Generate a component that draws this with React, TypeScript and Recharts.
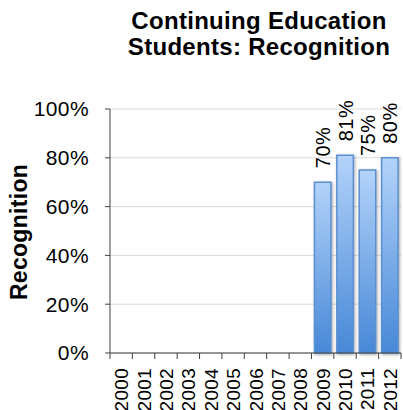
import React from "react";
import { BarChart, Bar, XAxis, YAxis, CartesianGrid, LabelList } from "recharts";

const years = ["2000","2001","2002","2003","2004","2005","2006","2007","2008","2009","2010","2011","2012"];
const recognition: (number | null)[] = [null,null,null,null,null,null,null,null,null,70,81,75,80];
const yTicks = [0, 20, 40, 60, 80, 100];
const titleLines = ["Continuing Education", "Students: Recognition"];
const yLabel = "Recognition";

const data = years.map((y, i) => ({ year: y, value: recognition[i] }));

const W = 403;
const H = 410;
const LEFT = 110;
const RIGHT_M = 2;
const BAND = (W - LEFT - RIGHT_M) / years.length;
const FONT = "Liberation Sans, Arial, Helvetica, sans-serif";

const XTick = (props: any) => {
  const { x, y, payload, index } = props;
  const bx = x - BAND / 2;
  return (
    <g>
      <line x1={bx} y1={y} x2={bx} y2={y + 6} stroke="#404040" strokeWidth={1} />
      {index === years.length - 1 && (
        <line x1={x + BAND / 2} y1={y} x2={x + BAND / 2} y2={y + 6} stroke="#404040" strokeWidth={1} />
      )}
      <text
        x={x + 7}
        y={y + 15}
        transform={`rotate(-90, ${x + 7}, ${y + 15})`}
        textAnchor="end"
        style={{ fontFamily: FONT }}
        fontSize={19}
        letterSpacing={0.3}
        fill="#000"
      >
        {payload.value}
      </text>
    </g>
  );
};

const BarLabel = (props: any) => {
  const { x, y, width, value } = props;
  if (value == null) return null;
  const tx = x + width / 2 + 7.5;
  const ty = y - 14;
  return (
    <text
      x={tx}
      y={ty}
      transform={`rotate(-90, ${tx}, ${ty})`}
      textAnchor="start"
      style={{ fontFamily: FONT }}
      fontSize={20}
      letterSpacing={0.5}
      fill="#000"
    >
      {`${value}%`}
    </text>
  );
};

export default function App() {
  return (
    <div style={{ position: "absolute", left: 0, top: 0, width: W, height: H, background: "#fff", overflow: "hidden" }}>
      <BarChart
        width={W}
        height={H}
        data={data}
        margin={{ top: 109, right: RIGHT_M, left: 0, bottom: 0 }}
        barSize={16.5}
      >
        <defs>
          <linearGradient id="barGrad" x1="0" y1="0" x2="0" y2="1">
            <stop offset="0%" stopColor="#b3d3fa" />
            <stop offset="100%" stopColor="#4788d7" />
          </linearGradient>
          <filter id="barShadow" x="-30%" y="-10%" width="160%" height="120%">
            <feDropShadow dx="1" dy="1" stdDeviation="1.6" floodColor="#000" floodOpacity="0.35" />
          </filter>
        </defs>
        <CartesianGrid vertical={false} stroke="#d9d9d9" strokeWidth={1} />
        <XAxis
          dataKey="year"
          height={H - 353}
          tickLine={false}
          tickSize={0}
          tickMargin={0}
          axisLine={{ stroke: "#404040", strokeWidth: 1 }}
          interval={0}
          tick={<XTick />}
        />
        <YAxis
          width={LEFT}
          domain={[0, 100]}
          ticks={yTicks}
          tickFormatter={(v: number) => `${v}%`}
          tickSize={5}
          tickMargin={16}
          axisLine={{ stroke: "#404040", strokeWidth: 1 }}
          tickLine={{ stroke: "#404040", strokeWidth: 1 }}
          tick={{ fontFamily: FONT, fontSize: 21, letterSpacing: 0.4, fill: "#000" }}
        />
        <Bar
          dataKey="value"
          fill="url(#barGrad)"
          stroke="#5b8fcf"
          strokeWidth={1.5}
          filter="url(#barShadow)"
          isAnimationActive={false}
        >
          <LabelList dataKey="value" content={<BarLabel />} />
        </Bar>
      </BarChart>
      <svg width={W} height={H} style={{ position: "absolute", left: 0, top: 0, pointerEvents: "none" }}>
        {titleLines.map((t, i) => (
          <text
            key={i}
            x={259}
            y={29 + i * 26}
            textAnchor="middle"
            style={{ fontFamily: FONT }}
            fontWeight="bold"
            fontSize={24}
            letterSpacing={0.3}
            fill="#000"
          >
            {t}
          </text>
        ))}
        <text
          x={27}
          y={232}
          transform="rotate(-90, 27, 232)"
          textAnchor="middle"
          style={{ fontFamily: FONT }}
          fontWeight="bold"
          fontSize={23}
          letterSpacing={0.3}
          fill="#000"
        >
          {yLabel}
        </text>
      </svg>
    </div>
  );
}
